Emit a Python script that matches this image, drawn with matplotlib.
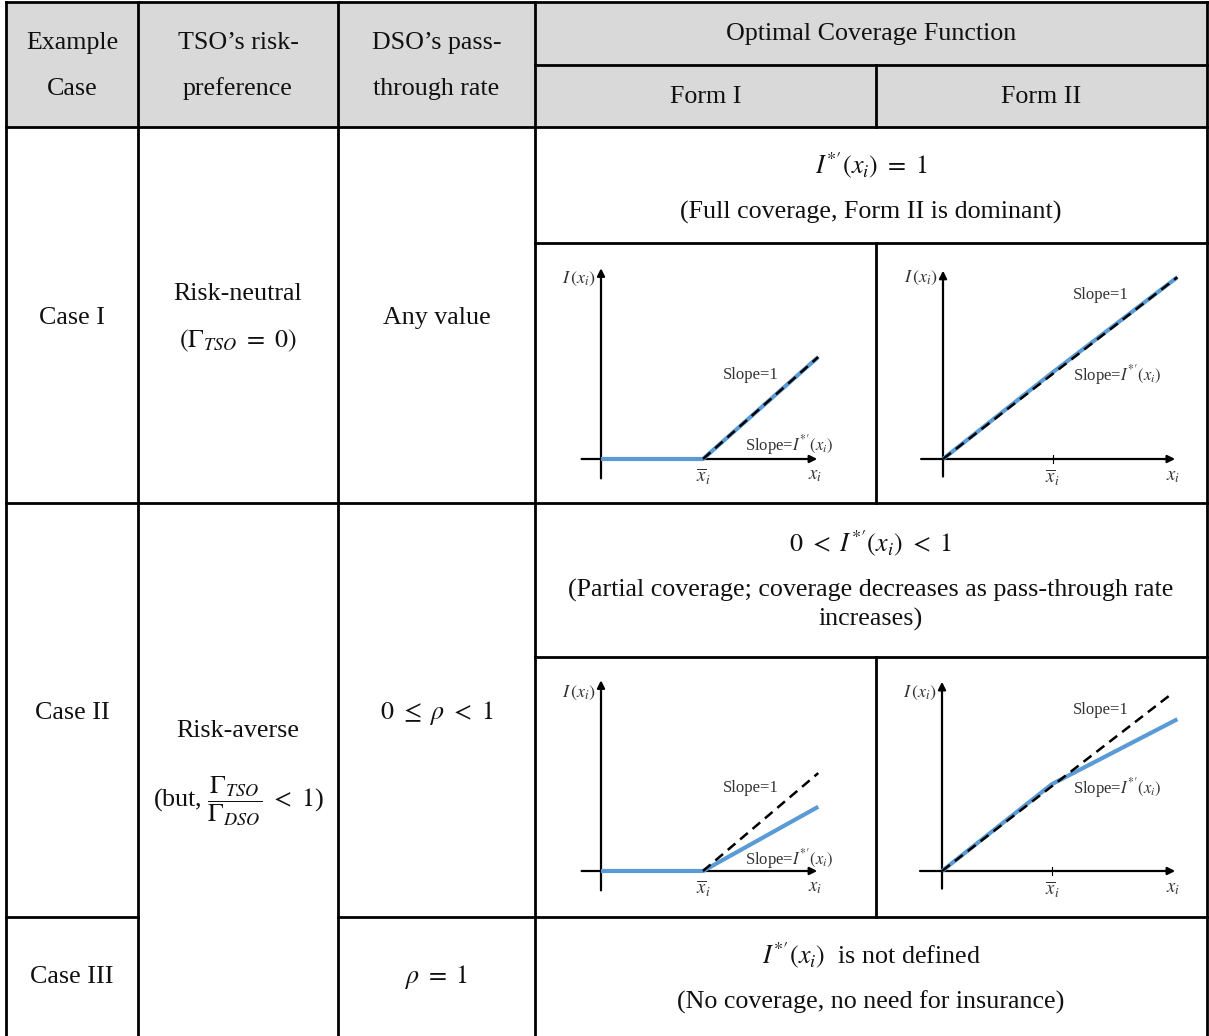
"""Optimal coverage function table"""

import matplotlib.pyplot as plt
from matplotlib.patches import Rectangle

W, H = 1209, 1036

# table grid (pixels)
col_x = [6, 138, 338, 535, 876, 1207]
row_y = [2, 65, 127, 243, 503, 657, 917, 1036]

header_top = ['Example', 'TSO’s risk-', 'DSO’s pass-']
header_bottom = ['Case', 'preference', 'through rate']
header_span = 'Optimal Coverage Function'
form_names = ['Form I', 'Form II']

case_names = ['Case I', 'Case II', 'Case III']
tso_neutral = ['Risk-neutral', r'$(\Gamma_{TSO}\ =\ 0)$']
tso_averse = ['Risk-averse',
              r'(but, $\dfrac{\Gamma_{TSO}}{\Gamma_{DSO}}\ <\ 1$)']
pass_through = ['Any value', r'$0\ \leq\ \rho\ <\ 1$', r'$\rho\ =\ 1$']
coverage_eq = [r"$I^{*\prime}(x_i)\ =\ 1$",
               r"$0\ <\ I^{*\prime}(x_i)\ <\ 1$",
               r"$I^{*\prime}(x_i)$  is not defined"]
coverage_note = ['(Full coverage, Form II is dominant)',
                 '(Partial coverage; coverage decreases as pass-through rate\n'
                 'increases)',
                 '(No coverage, no need for insurance)']

# small plots, x in units of x_bar
c1_f1_blue_x = [0, 1.0, 2.13]
c1_f1_blue_y = [0, 0, 1.0]
c1_f1_dash_x = [1.0, 2.13]
c1_f1_dash_y = [0, 1.0]

c1_f2_blue_x = [0, 1.0, 2.14]
c1_f2_blue_y = [0, 0.79, 1.66]
c1_f2_dash_x = [0, 2.14]
c1_f2_dash_y = [0, 1.66]

c2_f1_blue_x = [0, 1.0, 2.13]
c2_f1_blue_y = [0, 0, 0.63]
c2_f1_dash_x = [1.0, 2.13]
c2_f1_dash_y = [0, 0.96]

c2_f2_blue_x = [0, 1.0, 2.14]
c2_f2_blue_y = [0, 0.79, 1.38]
c2_f2_dash_x = [0, 2.1]
c2_f2_dash_y = [0, 1.62]

BLUE = '#5b9bd5'
GRAY = '#d9d9d9'
TXT = '#333333'


def hline(ax, y, x0, x1):
    ax.plot([x0, x1], [y, y], color='black', lw=2.0, solid_capstyle='projecting')


def vline(ax, x, y0, y1):
    ax.plot([x, x], [y0, y1], color='black', lw=2.0, solid_capstyle='projecting')


def small_plot(fig, origin, unit, xlim, ylim, blue, dash, form, lab):
    ox, oy = origin
    left = ox + xlim[0] * unit
    top = oy - ylim[1] * unit
    w = (xlim[1] - xlim[0]) * unit
    h = (ylim[1] - ylim[0]) * unit
    a = fig.add_axes([left / W, 1 - (top + h) / H, w / W, h / H])
    a.set_xlim(*xlim)
    a.set_ylim(*ylim)
    a.axis('off')
    a.patch.set_alpha(0)

    if form == 1:
        xa, ya = (-0.19, 2.12), (-0.19, 1.87)
    else:
        xa, ya = (-0.2, 2.12), (-0.16, 1.72)
    arrow = dict(arrowstyle='-|>', color='black', lw=1.6, mutation_scale=11,
                 shrinkA=0, shrinkB=0)
    a.annotate('', xy=(xa[1], 0), xytext=(xa[0], 0), arrowprops=arrow)
    a.annotate('', xy=(0, ya[1]), xytext=(0, ya[0]), arrowprops=arrow)
    if form == 2:
        a.plot([1, 1], [-0.04, 0.04], color='black', lw=0.8)

    a.plot(blue[0], blue[1], color=BLUE, lw=3.0, solid_capstyle='butt', zorder=3)
    a.plot(dash[0], dash[1], color='black', lw=1.8, ls=(0, (4, 2.5)), zorder=4)

    fs = 12
    a.text(-0.05, lab['iy'], r'$I\,(x_i)$', ha='right', va='center',
           fontsize=13, color=TXT)
    a.text(1.19, lab['s1'], 'Slope=1', ha='left', va='center',
           fontsize=fs, color=TXT)
    a.text(lab['sx'], lab['s2'], r"Slope=$I^{*\prime}(x_i)$", ha='left',
           va='center', fontsize=fs, color=TXT)
    a.text(1.0, -0.17, r'$\overline{x}_i$', ha='center', va='center',
           fontsize=13.5, color=TXT)
    a.text(2.1, -0.16, r'$x_i$', ha='center', va='center',
           fontsize=13.5, color=TXT)


def main():
    plt.rcParams['font.family'] = ['Liberation Serif', 'DejaVu Serif']
    plt.rcParams['mathtext.fontset'] = 'stix'

    fig = plt.figure(figsize=(W / 100, H / 100), dpi=100)
    ax = fig.add_axes([0, 0, 1, 1])
    ax.set_xlim(0, W)
    ax.set_ylim(H, 0)
    ax.axis('off')

    # header background
    ax.add_patch(Rectangle((col_x[0], row_y[0]), col_x[-1] - col_x[0],
                           row_y[2] - row_y[0], color=GRAY, zorder=0))

    # grid
    L, R = col_x[0], col_x[-1]
    for y in (row_y[0], row_y[2], row_y[4]):
        hline(ax, y, L, R)
    for y in (row_y[1], row_y[3], row_y[5]):
        hline(ax, y, col_x[3], R)
    hline(ax, row_y[6], L, col_x[1])
    hline(ax, row_y[6], col_x[2], R)
    for x in (col_x[0], col_x[1], col_x[2], col_x[3], col_x[5]):
        vline(ax, x, row_y[0], row_y[7])
    vline(ax, col_x[4], row_y[1], row_y[2])
    vline(ax, col_x[4], row_y[3], row_y[4])
    vline(ax, col_x[4], row_y[5], row_y[6])

    fs = 18.7
    kw = dict(ha='center', va='center', fontsize=fs, color='#111111')
    cx = [(col_x[i] + col_x[i + 1]) / 2 for i in range(5)]
    span_x = (col_x[3] + col_x[5]) / 2

    for i in range(3):
        ax.text(cx[i], 43, header_top[i], **kw)
        ax.text(cx[i], 89, header_bottom[i], **kw)
    ax.text(span_x, 34, header_span, **kw)
    ax.text(cx[3], 97, form_names[0], **kw)
    ax.text(cx[4], 97, form_names[1], **kw)

    ax.text(cx[0], 318, case_names[0], **kw)
    ax.text(cx[0], 713, case_names[1], **kw)
    ax.text(cx[0], 977, case_names[2], **kw)

    ax.text(cx[1], 294, tso_neutral[0], **kw)
    ax.text(cx[1], 341, tso_neutral[1], **kw)
    ax.text(cx[1], 731, tso_averse[0], **kw)
    ax.text(cx[1], 801, tso_averse[1], **kw)

    ax.text(cx[2], 318, pass_through[0], **kw)
    ax.text(cx[2], 713, pass_through[1], **kw)
    ax.text(cx[2], 977, pass_through[2], **kw)

    ax.text(span_x, 165, coverage_eq[0], **kw)
    ax.text(span_x, 212, coverage_note[0], **kw)
    ax.text(span_x, 543, coverage_eq[1], **kw)
    ax.text(span_x, 605, coverage_note[1], linespacing=1.35, **kw)
    ax.text(span_x, 955, coverage_eq[2], **kw)
    ax.text(span_x, 1002, coverage_note[2], **kw)

    f1 = ((-0.6, 2.6), (-0.4, 2.0))
    f2 = ((-0.6, 2.4), (-0.4, 2.0))
    small_plot(fig, (601, 459), 102, *f1,
               (c1_f1_blue_x, c1_f1_blue_y), (c1_f1_dash_x, c1_f1_dash_y), 1,
               dict(iy=1.77, s1=0.82, sx=1.41, s2=0.14))
    small_plot(fig, (943, 459), 109.5, *f2,
               (c1_f2_blue_x, c1_f2_blue_y), (c1_f2_dash_x, c1_f2_dash_y), 2,
               dict(iy=1.65, s1=1.5, sx=1.19, s2=0.77))
    small_plot(fig, (601, 871), 102, *f1,
               (c2_f1_blue_x, c2_f1_blue_y), (c2_f1_dash_x, c2_f1_dash_y), 1,
               dict(iy=1.75, s1=0.81, sx=1.41, s2=0.12))
    small_plot(fig, (942, 871), 110, *f2,
               (c2_f2_blue_x, c2_f2_blue_y), (c2_f2_dash_x, c2_f2_dash_y), 2,
               dict(iy=1.62, s1=1.46, sx=1.19, s2=0.75))

    fig.savefig('out.png', dpi=100, facecolor='white')


if __name__ == "__main__":
    main()
